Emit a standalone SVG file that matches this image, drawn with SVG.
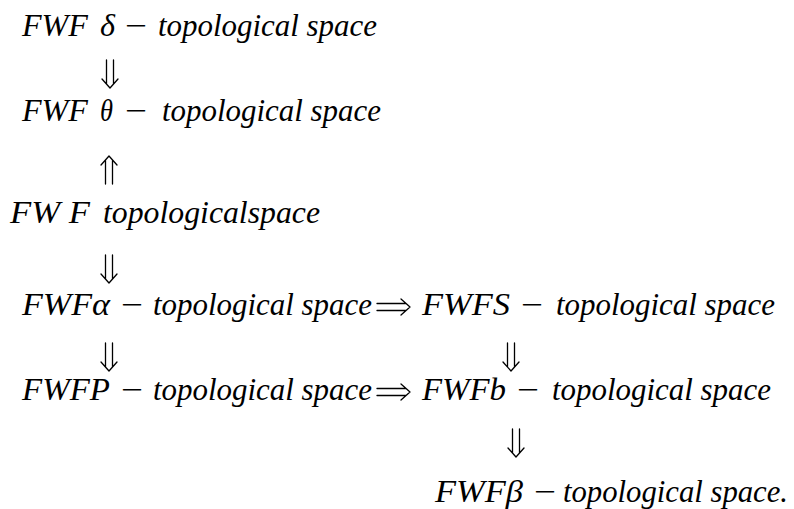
<svg xmlns="http://www.w3.org/2000/svg" width="794" height="509" viewBox="0 0 794 509">
<style>
text{font-family:"Liberation Serif","Times New Roman",serif;font-style:italic;font-size:31px;fill:#000}
.up{font-style:normal}
.arr{fill:none;stroke:#000;stroke-width:1.3;stroke-linecap:round;stroke-linejoin:round}
</style>
<rect width="794" height="509" fill="#fff"/>
<g id="n-delta">
<text x="22" y="36" textLength="66" lengthAdjust="spacingAndGlyphs">FWF</text>
<text x="100" y="36" textLength="15" lengthAdjust="spacingAndGlyphs">δ</text>
<text class="up" x="125" y="36" textLength="22" lengthAdjust="spacingAndGlyphs">−</text>
<text x="158" y="36" textLength="219" lengthAdjust="spacingAndGlyphs">topological space</text>
</g>
<g id="n-theta">
<text x="22" y="121" textLength="66" lengthAdjust="spacingAndGlyphs">FWF</text>
<text x="100" y="121" textLength="13" lengthAdjust="spacingAndGlyphs">θ</text>
<text class="up" x="125" y="121" textLength="22" lengthAdjust="spacingAndGlyphs">−</text>
<text x="162" y="121" textLength="219" lengthAdjust="spacingAndGlyphs">topological space</text>
</g>
<g id="n-fwf">
<text x="10" y="223" textLength="80" lengthAdjust="spacingAndGlyphs">FW F</text>
<text x="103" y="223" textLength="217" lengthAdjust="spacingAndGlyphs">topologicalspace</text>
</g>
<g id="n-alpha">
<text x="22" y="315" textLength="88" lengthAdjust="spacingAndGlyphs">FWFα</text>
<text class="up" x="121" y="315" textLength="22" lengthAdjust="spacingAndGlyphs">−</text>
<text x="153" y="315" textLength="219" lengthAdjust="spacingAndGlyphs">topological space</text>
</g>
<g id="n-s">
<text x="422" y="315" textLength="88" lengthAdjust="spacingAndGlyphs">FWFS</text>
<text class="up" x="521" y="315" textLength="22" lengthAdjust="spacingAndGlyphs">−</text>
<text x="556" y="315" textLength="219" lengthAdjust="spacingAndGlyphs">topological space</text>
</g>
<g id="n-p">
<text x="22" y="400" textLength="88" lengthAdjust="spacingAndGlyphs">FWFP</text>
<text class="up" x="121" y="400" textLength="22" lengthAdjust="spacingAndGlyphs">−</text>
<text x="153" y="400" textLength="219" lengthAdjust="spacingAndGlyphs">topological space</text>
</g>
<g id="n-b">
<text x="422" y="400" textLength="84" lengthAdjust="spacingAndGlyphs">FWFb</text>
<text class="up" x="517" y="400" textLength="22" lengthAdjust="spacingAndGlyphs">−</text>
<text x="552" y="400" textLength="219" lengthAdjust="spacingAndGlyphs">topological space</text>
</g>
<g id="n-beta">
<text x="435" y="502" textLength="88" lengthAdjust="spacingAndGlyphs">FWFβ</text>
<text class="up" x="534" y="502" textLength="22" lengthAdjust="spacingAndGlyphs">−</text>
<text x="563" y="502" textLength="225" lengthAdjust="spacingAndGlyphs">topological space.</text>
</g>
<g id="connectors" class="arr">
<path d="M106.5 60V84M113.5 60V84M102 79L110 88L118 79"/>
<path d="M105.5 160V184M112.5 160V184M101 165L109 156L117 165"/>
<path d="M105.5 255V279M112.5 255V279M101 274L109 283L117 274"/>
<path d="M105.5 343V367M112.5 343V367M101 362L109 371L117 362"/>
<path d="M507.5 343V367M514.5 343V367M503 362L511 371L519 362"/>
<path d="M512.5 429V453M519.5 429V453M508 448L516 457L524 448"/>
<path d="M377 303.5H406M377 310.5H406M401 299L410 307L401 315"/>
<path d="M377 388.5H406M377 395.5H406M401 384L410 392L401 400"/>
</g>
</svg>
